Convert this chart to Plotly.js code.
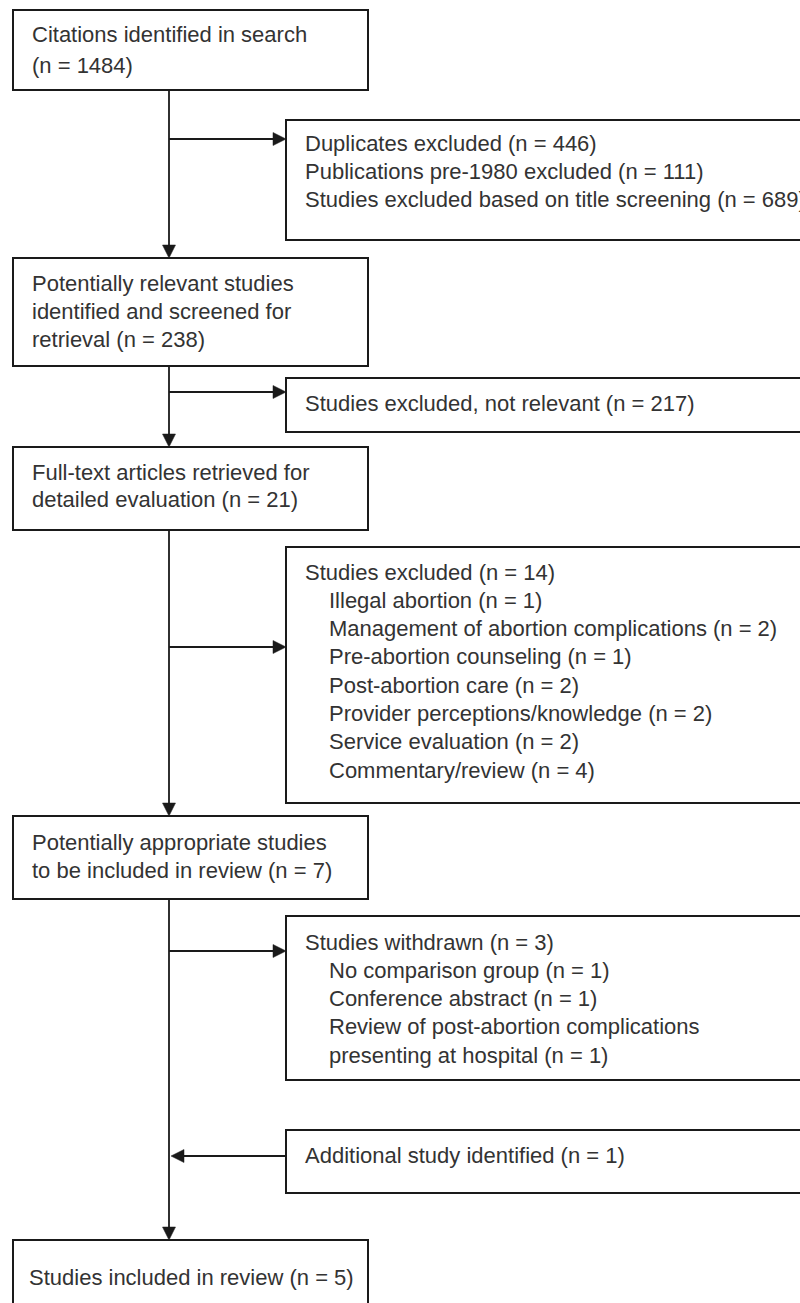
<!DOCTYPE html>
<html>
<head>
<meta charset="utf-8">
<script src="https://cdn.plot.ly/plotly-3.0.1.min.js"></script>
<style>html,body{margin:0;padding:0;background:#fff;}#chart{width:800px;height:1303px;}</style>
</head>
<body>
<div id="chart"></div>
<script>
// ---- Data ----
const stageLabels = [
  ["Citations identified in search", ""],
  ["Potentially relevant studies", "identified and screened for", "retrieval "],
  ["Full-text articles retrieved for", "detailed evaluation "],
  ["Potentially appropriate studies", "to be included in review "],
  ["Studies included in review "]
];
const stageCounts = [1484, 238, 21, 7, 5];

const exclusionHeaders = [
  ["Duplicates excluded", "Publications pre-1980 excluded", "Studies excluded based on title screening"],
  ["Studies excluded, not relevant"],
  ["Studies excluded"],
  ["Studies withdrawn"],
  ["Additional study identified"]
];
const exclusionHeaderCounts = [[446, 111, 689], [217], [14], [3], [1]];

const excludedReasons = ["Illegal abortion", "Management of abortion complications", "Pre-abortion counseling",
  "Post-abortion care", "Provider perceptions/knowledge", "Service evaluation", "Commentary/review"];
const excludedReasonCounts = [1, 2, 1, 2, 2, 2, 4];

const withdrawnReasons = ["No comparison group", "Conference abstract", "Review of post-abortion complications", "presenting at hospital"];
const withdrawnReasonCounts = [1, 1, null, 1];

// ---- Layout geometry (pixels) ----
const W = 800, H = 1303;
const lineCol = '#1a1a1a', textCol = '#333333';
const FONT = {family: 'Liberation Sans, Arial, sans-serif', size: 22, color: textCol};
const leftBox = {x0: 13, x1: 368};
const rightBox = {x0: 286, x1: 806};
const stageY = [[10, 90], [258, 366], [447, 530], [816, 899], [1240, 1330]];
const sideY = [[120, 240], [378, 432], [547, 803], [916, 1080], [1130, 1193]];
const stageTextX = [30, 30, 30, 30, 27];
const stageTextY0 = [34, 283, 472, 842, 1277];
const stageLineGap = [31, 28, 27.5, 28, 28];
const sideTextY0 = [143, 403, 572, 942, 1155];
const sideArrowY = [139, 392, 647, 951, 1156];
const sideGap = 28.3;
const spineX = 169;

function fmt(n) { return "(n = " + n + ")"; }

const shapes = [];
const annotations = [];

function rect(x0, x1, y0, y1) {
  shapes.push({type: 'rect', xref: 'x', yref: 'y', x0, x1, y0, y1,
    line: {color: lineCol, width: 2}, fillcolor: 'rgba(0,0,0,0)'});
}
function seg(x0, y0, x1, y1) {
  shapes.push({type: 'line', xref: 'x', yref: 'y', x0, y0, x1, y1, line: {color: lineCol, width: 1.8}});
}
function head(tx, ty, dir) {
  const L = 13, h = 6.5;
  let p;
  if (dir === 'down') p = `M${tx},${ty} L${tx - h},${ty - L} L${tx + h},${ty - L} Z`;
  else if (dir === 'right') p = `M${tx},${ty} L${tx - L},${ty - h} L${tx - L},${ty + h} Z`;
  else p = `M${tx},${ty} L${tx + L},${ty - h} L${tx + L},${ty + h} Z`;
  shapes.push({type: 'path', xref: 'x', yref: 'y', path: p, fillcolor: lineCol, line: {color: lineCol, width: 0.5}});
}
function text(x, y, s) {
  annotations.push({x, y, xref: 'x', yref: 'y', text: s, showarrow: false,
    xanchor: 'left', yanchor: 'middle', align: 'left', font: FONT});
}

// stage boxes
stageLabels.forEach((lines, i) => {
  rect(leftBox.x0, leftBox.x1, stageY[i][0], stageY[i][1]);
  const ls = lines.slice();
  const last = ls.length - 1;
  if (ls[last] === "") ls[last] = fmt(stageCounts[i]);
  else ls[last] = ls[last] + fmt(stageCounts[i]);
  ls.forEach((t, j) => text(stageTextX[i], stageTextY0[i] + j * stageLineGap[i], t));
});

// side boxes
exclusionHeaders.forEach((heads, i) => {
  rect(rightBox.x0, rightBox.x1, sideY[i][0], sideY[i][1]);
  let lines = heads.map((h, j) => ({t: h + " " + fmt(exclusionHeaderCounts[i][j]), ind: 0}));
  if (i === 2) excludedReasons.forEach((r, j) => lines.push({t: r + " " + fmt(excludedReasonCounts[j]), ind: 1}));
  if (i === 3) withdrawnReasons.forEach((r, j) => lines.push({t: withdrawnReasonCounts[j] == null ? r : r + " " + fmt(withdrawnReasonCounts[j]), ind: 1}));
  lines.forEach((l, j) => text(303 + l.ind * 24, sideTextY0[i] + j * sideGap, l.t));
});

// spine with arrows into stages
for (let i = 0; i < stageY.length - 1; i++) {
  seg(spineX, stageY[i][1], spineX, stageY[i + 1][0] - 10);
  head(spineX, stageY[i + 1][0], 'down');
}
// side arrows
sideArrowY.forEach((y, i) => {
  if (i < 4) { seg(spineX, y, rightBox.x0 - 10, y); head(rightBox.x0, y, 'right'); }
  else { seg(spineX + 10, y, rightBox.x0, y); head(spineX + 2, y, 'left'); }
});

const layout = {
  width: W, height: H, margin: {l: 0, r: 0, t: 0, b: 0},
  paper_bgcolor: '#fff', plot_bgcolor: '#fff', showlegend: false,
  xaxis: {range: [0, W], visible: false, fixedrange: true},
  yaxis: {range: [H, 0], visible: false, fixedrange: true},
  shapes, annotations
};
Plotly.newPlot('chart', [{x: [], y: [], type: 'scatter', hoverinfo: 'skip'}], layout, {staticPlot: true, displayModeBar: false});
</script>
</body>
</html>
